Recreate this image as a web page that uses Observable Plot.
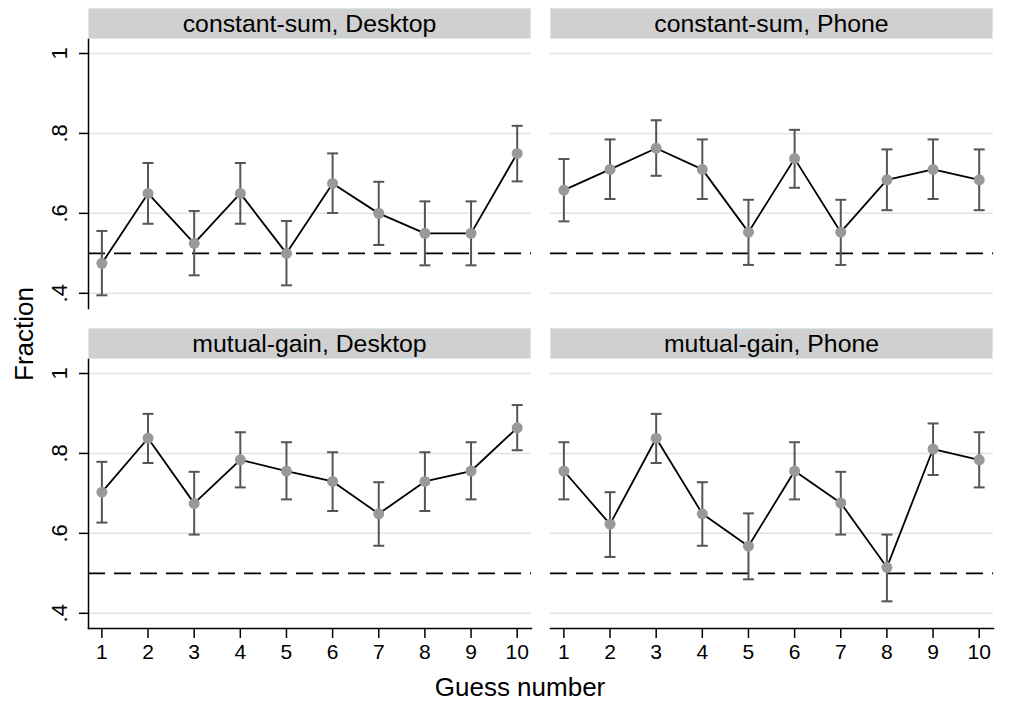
<!DOCTYPE html>
<html><head><meta charset="utf-8">
<script src="https://cdn.jsdelivr.net/npm/d3@7"></script>
<script src="https://cdn.jsdelivr.net/npm/@observablehq/plot@0.6"></script>
<style>
body{margin:0;background:#fff;font-family:"Liberation Sans",Arial,Helvetica,sans-serif;}
#root{position:relative;width:1013px;height:713px;overflow:hidden;background:#fff;}
.strip{position:absolute;height:31px;background:#d0d0d0;border:1px solid #d8e7eb;display:flex;align-items:center;justify-content:center;font-size:24.8px;color:#000;box-sizing:border-box;padding-top:0px;}
.panel{position:absolute;}
.ylab{position:absolute;font-size:26px;color:#000;transform:translate(-50%,-50%) rotate(-90deg);white-space:nowrap;}
.xlab{position:absolute;font-size:26px;color:#000;transform:translateX(-50%);white-space:nowrap;}
</style></head><body><div id="root"></div>
<script>
// ---- data ----
const guesses = [1, 2, 3, 4, 5, 6, 7, 8, 9, 10];
const panelTitles = ["constant-sum, Desktop", "constant-sum, Phone", "mutual-gain, Desktop", "mutual-gain, Phone"];
const yTicks = [0.4, 0.6, 0.8, 1];
const yTickLabels = [".4", ".6", ".8", "1"];
const chanceLevel = [0.5];
const xTitle = "Guess number";
const yTitle = "Fraction";

const csDesktop   = [0.475, 0.650, 0.525, 0.650, 0.500, 0.675, 0.600, 0.550, 0.550, 0.750];
const csDesktopLo = [0.395, 0.574, 0.445, 0.574, 0.420, 0.601, 0.521, 0.470, 0.470, 0.680];
const csDesktopHi = [0.556, 0.726, 0.606, 0.726, 0.581, 0.750, 0.679, 0.630, 0.630, 0.819];

const csPhone   = [0.658, 0.710, 0.763, 0.710, 0.553, 0.737, 0.553, 0.684, 0.710, 0.684];
const csPhoneLo = [0.580, 0.636, 0.694, 0.636, 0.471, 0.664, 0.471, 0.608, 0.636, 0.608];
const csPhoneHi = [0.736, 0.785, 0.833, 0.785, 0.634, 0.809, 0.634, 0.760, 0.785, 0.760];

const mgDesktop   = [0.703, 0.838, 0.675, 0.784, 0.756, 0.730, 0.649, 0.730, 0.756, 0.864];
const mgDesktopLo = [0.627, 0.776, 0.597, 0.715, 0.685, 0.656, 0.569, 0.656, 0.685, 0.808];
const mgDesktopHi = [0.779, 0.899, 0.754, 0.853, 0.828, 0.803, 0.728, 0.803, 0.828, 0.921];

const mgPhone   = [0.756, 0.623, 0.838, 0.649, 0.568, 0.756, 0.676, 0.515, 0.811, 0.784];
const mgPhoneLo = [0.685, 0.541, 0.776, 0.569, 0.485, 0.685, 0.597, 0.430, 0.746, 0.715];
const mgPhoneHi = [0.828, 0.703, 0.899, 0.728, 0.650, 0.828, 0.754, 0.597, 0.875, 0.853];

const series = [
  [csDesktop, csDesktopLo, csDesktopHi],
  [csPhone, csPhoneLo, csPhoneHi],
  [mgDesktop, mgDesktopLo, mgDesktopHi],
  [mgPhone, mgPhoneLo, mgPhoneHi]
];

// ---- layout ----
const root = document.getElementById("root");
const colX = [[88, 531], [550, 993]];
const rowY = [[39, 308], [359, 628]];
const stripH = 31;
const xDomain = [0.71, 10.31];
const yDomain = [0.362, 1.035];
const FONT = '"Liberation Sans", Arial, Helvetica, sans-serif';

const capSymbol = {
  draw(context, size) {
    const w = Math.sqrt(size / Math.PI);
    context.moveTo(-w, 0);
    context.lineTo(w, 0);
  }
};

panelTitles.forEach((title, i) => {
  const row = Math.floor(i / 2), col = i % 2;
  const [x0, x1] = colX[col];
  const [y0, y1] = rowY[row];
  const [vals, lo, hi] = series[i];
  const data = guesses.map((g, j) => ({g, v: vals[j], lo: lo[j], hi: hi[j]}));

  const strip = document.createElement("div");
  strip.className = "strip";
  strip.style.left = x0 + "px";
  strip.style.top = (y0 - stripH) + "px";
  strip.style.width = (x1 - x0) + "px";
  strip.textContent = title;
  root.appendChild(strip);

  const left = col === 0;
  const bottom = row === 1;
  const mL = left ? 88 : 0;
  const mB = bottom ? 50 : 0;
  const marks = [
    Plot.gridY(yTicks, {stroke: "#e2e2e2", strokeOpacity: 1, strokeWidth: 1.5}),
    Plot.ruleY(chanceLevel, {stroke: "#000", strokeWidth: 1.8, strokeDasharray: "17,9"}),
    Plot.ruleX(data, {x: "g", y1: "lo", y2: "hi", stroke: "#555", strokeWidth: 2}),
    Plot.dot(data, {x: "g", y: "lo", symbol: capSymbol, r: 5.5, stroke: "#555", strokeWidth: 2, fill: "none"}),
    Plot.dot(data, {x: "g", y: "hi", symbol: capSymbol, r: 5.5, stroke: "#555", strokeWidth: 2, fill: "none"}),
    Plot.line(data, {x: "g", y: "v", stroke: "#000", strokeWidth: 1.8}),
    Plot.dot(data, {x: "g", y: "v", r: 5.5, fill: "#999", stroke: "none"})
  ];
  if (left) {
    marks.push(Plot.axisY(yTicks, {
      tickSize: 9, text: null, label: null, stroke: "#000", strokeWidth: 1.5
    }));
    marks.push(Plot.text(yTicks, {
      y: d => d, text: d => yTickLabels[yTicks.indexOf(d)], frameAnchor: "left",
      dx: -29, rotate: -90, textAnchor: "middle", lineAnchor: "middle",
      fontSize: 22, fill: "#000"
    }));
    marks.push(Plot.frame({anchor: "left", stroke: "#000", strokeWidth: 1.5}));
  }
  if (bottom) {
    marks.push(Plot.axisX(guesses, {
      tickSize: 10, tickPadding: 6, fontSize: 21,
      tickFormat: d => String(d), label: null, stroke: "#000", strokeWidth: 1.5
    }));
    marks.push(Plot.frame({anchor: "bottom", stroke: "#000", strokeWidth: 1.5}));
  }
  const plot = Plot.plot({
    width: (x1 - x0) + mL,
    height: (y1 - y0) + mB,
    marginLeft: mL,
    marginRight: 0,
    marginTop: 0,
    marginBottom: mB,
    style: {fontFamily: FONT, color: "#000", background: "transparent", overflow: "visible"},
    x: {domain: xDomain, axis: null},
    y: {domain: yDomain, axis: null},
    marks
  });
  plot.classList.add("panel");
  plot.style.left = (x0 - mL) + "px";
  plot.style.top = y0 + "px";
  root.appendChild(plot);
});

const yl = document.createElement("div");
yl.className = "ylab";
yl.style.left = "24px";
yl.style.top = "334px";
yl.textContent = yTitle;
root.appendChild(yl);

const xl = document.createElement("div");
xl.className = "xlab";
xl.style.left = "520px";
xl.style.top = "672px";
xl.textContent = xTitle;
root.appendChild(xl);
</script>
</body></html>
